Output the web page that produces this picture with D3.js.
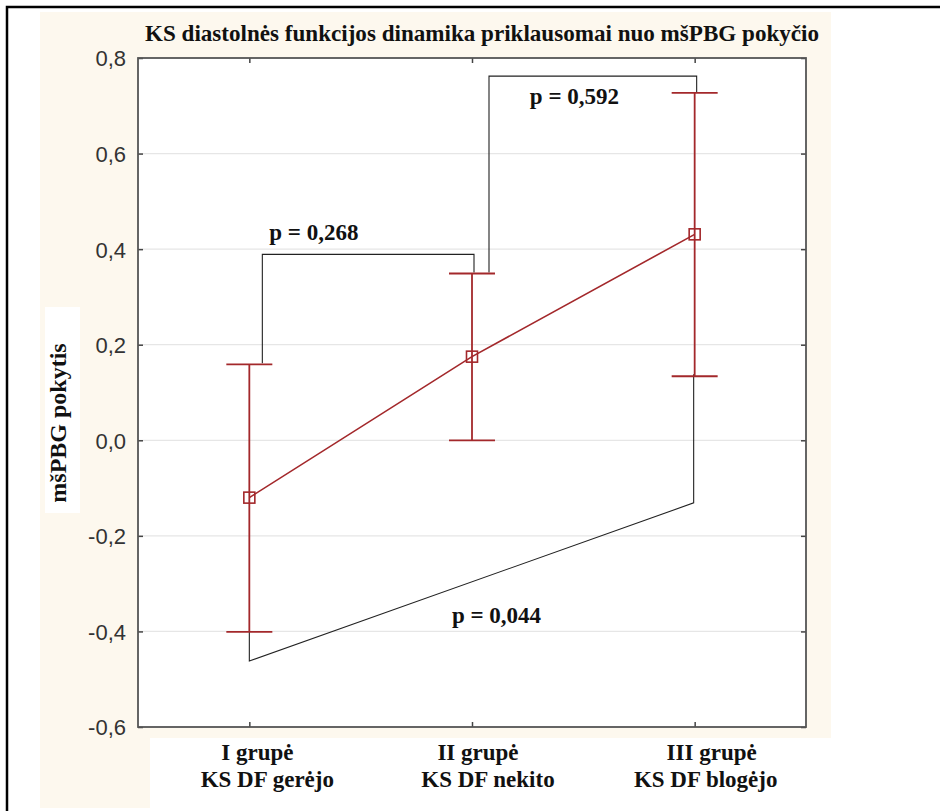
<!DOCTYPE html>
<html>
<head>
<meta charset="utf-8">
<script src="https://cdn.jsdelivr.net/npm/d3@7"></script>
<style>
  body { margin: 0; background: #fff; }
  svg { display: block; }
</style>
</head>
<body>
<div class="container"></div>
<script>
// groups and their mean +/- interval (mšPBG pokytis)
let groupLine1 = ['I grupė', 'II grupė', 'III grupė']
let groupLine2 = ['KS DF gerėjo', 'KS DF nekito', 'KS DF blogėjo']
let means = [-0.12, 0.175, 0.431]
let upper = [0.159, 0.349, 0.727]
let lower = [-0.401, 0.0, 0.134]
let yTicks = [0.8, 0.6, 0.4, 0.2, 0.0, -0.2, -0.4, -0.6]

// significance brackets: from group -> to group, the y values of the legs and the bar
let bracketFrom = [0, 1]
let bracketTo = [1, 2]
let bracketFromY = [0.159, 0.349]
let bracketToY = [0.349, 0.727]
let bracketBarY = [0.389, 0.762]
let pLabels = ['p = 0,268', 'p = 0,592', 'p = 0,044']
let pLabelX = [0.29, 1.46, 1.11]
let pLabelY = [0.419, 0.704, -0.382]

let width = 940
let height = 811
let margin = { top: 58, left: 138, bottom: 84, right: 134 }

let svg = d3.select('.container')
    .append('svg')
    .attr('width', width)
    .attr('height', height)

let red = '#a3282b'
let serif = '"Liberation Serif", "Times New Roman", serif'

// backgrounds
svg.append('rect').attr('x', 40).attr('y', 12).attr('width', 791).attr('height', 796).attr('fill', '#fdf8ee')
svg.append('rect').attr('x', 150).attr('y', 738).attr('width', 790).attr('height', 73).attr('fill', '#fff')
svg.append('rect').attr('x', 45).attr('y', 307).attr('width', 35).attr('height', 206).attr('fill', '#fff')
svg.append('rect')
    .attr('x', margin.left).attr('y', margin.top)
    .attr('width', width - margin.left - margin.right)
    .attr('height', height - margin.top - margin.bottom)
    .attr('fill', '#fff')

// outer frame
svg.append('rect').attr('x', 7).attr('y', 7).attr('width', 960).attr('height', 840)
    .attr('fill', 'none').attr('stroke', '#000').attr('stroke-width', 2.5)

let xScale = d3.scaleLinear()
    .domain([-0.5, 2.5])
    .range([margin.left, width - margin.right])

let yScale = d3.scaleLinear()
    .domain([-0.6, 0.8])
    .range([height - margin.bottom, margin.top])

// grid
svg.append('g')
    .selectAll('line')
    .data(yTicks.slice(1, -1))
    .enter()
    .append('line')
    .attr('x1', margin.left).attr('x2', width - margin.right)
    .attr('y1', d => yScale(d)).attr('y2', d => yScale(d))
    .attr('stroke', '#e6e6e6').attr('stroke-width', 1.2)

let fmt = d => d3.format('.1f')(d).replace('.', ',').replace('−', '-')

let yAxis = d3.axisLeft(yScale).tickValues(yTicks).tickFormat(fmt).tickSizeInner(-5).tickSizeOuter(0).tickPadding(12)
let gy = svg.append('g')
    .attr('transform', `translate(${margin.left},0)`)
    .call(yAxis)
gy.selectAll('text').attr('font-family', '"Liberation Sans", Arial, sans-serif').attr('font-size', 22).attr('fill', '#333').attr('dy', '0.36em')

let gyr = svg.append('g')
    .attr('transform', `translate(${width - margin.right},0)`)
    .call(d3.axisRight(yScale).tickValues(yTicks).tickFormat('').tickSizeInner(-5).tickSizeOuter(0))

let gx = svg.append('g')
    .attr('transform', `translate(0,${height - margin.bottom})`)
    .call(d3.axisBottom(xScale).tickValues([0, 1, 2]).tickFormat('').tickSizeInner(-5).tickSizeOuter(0))
let gxt = svg.append('g')
    .attr('transform', `translate(0,${margin.top})`)
    .call(d3.axisTop(xScale).tickValues([0, 1, 2]).tickFormat('').tickSizeInner(-5).tickSizeOuter(0))

;[gy, gyr, gx, gxt].forEach(g => {
    g.select('.domain').remove()
    g.selectAll('.tick line').attr('stroke', '#444').attr('stroke-width', 1.5)
})

// plot frame
svg.append('rect')
    .attr('x', margin.left).attr('y', margin.top)
    .attr('width', width - margin.left - margin.right)
    .attr('height', height - margin.top - margin.bottom)
    .attr('fill', 'none').attr('stroke', '#555').attr('stroke-width', 1.8)

// brackets
let bline = svg.append('g').attr('fill', 'none').attr('stroke', '#222').attr('stroke-width', 1.1)
let legOffset = [13, 17]
bracketFrom.forEach((f, i) => {
    let x1 = xScale(f) + legOffset[i]
    let x2 = xScale(bracketTo[i]) + 2
    bline.append('path')
        .attr('d', `M${x1},${yScale(bracketFromY[i]) - 1}V${yScale(bracketBarY[i])}H${x2}V${yScale(bracketToY[i]) - 1}`)
})
// lower bracket from III lower bound to I lower bound
bline.append('path')
    .attr('d', `M${xScale(2) - 1},${yScale(lower[2]) - 2}V${yScale(-0.131)}L${xScale(0)},${yScale(-0.462)}V${yScale(lower[0])}`)

// error bars
let eb = svg.append('g').attr('stroke', red).attr('stroke-width', 1.8)
means.forEach((m, i) => {
    let x = xScale(i)
    eb.append('line').attr('x1', x).attr('x2', x).attr('y1', yScale(upper[i])).attr('y2', yScale(lower[i]))
    ;[upper[i], lower[i]].forEach(v => {
        eb.append('line').attr('x1', x - 23).attr('x2', x + 23).attr('y1', yScale(v)).attr('y2', yScale(v))
    })
})

let line = d3.line().x((d, i) => xScale(i)).y(d => yScale(d))
svg.append('path').datum(means).attr('d', line).attr('fill', 'none').attr('stroke', red).attr('stroke-width', 1.6)

svg.selectAll('.dot')
    .data(means)
    .enter()
    .append('rect')
    .attr('class', 'dot')
    .attr('x', (d, i) => xScale(i) - 5.5)
    .attr('y', d => yScale(d) - 5.5)
    .attr('width', 11).attr('height', 11)
    .attr('fill', 'none').attr('stroke', red).attr('stroke-width', 1.6)

// p labels
svg.selectAll('.plabel')
    .data(pLabels)
    .enter()
    .append('text')
    .attr('class', 'plabel')
    .attr('x', (d, i) => xScale(pLabelX[i]))
    .attr('y', (d, i) => yScale(pLabelY[i]))
    .attr('text-anchor', 'middle')
    .attr('font-family', serif).attr('font-weight', 'bold').attr('font-size', 23)
    .attr('fill', '#111')
    .text(d => d)

// group labels
let line1Off = [8, 6, 17]
let line2Off = [18, 16, 11]
groupLine1.forEach((g, i) => {
    let t = svg.append('text')
        .attr('text-anchor', 'middle')
        .attr('font-family', serif).attr('font-weight', 'bold').attr('font-size', 23)
        .attr('fill', '#111')
    t.append('tspan').attr('x', xScale(i) + line1Off[i]).attr('y', 760).text(g)
    t.append('tspan').attr('x', xScale(i) + line2Off[i]).attr('y', 787).text(groupLine2[i])
})

// title
svg.append('text')
    .attr('x', 482).attr('y', 41)
    .attr('text-anchor', 'middle')
    .attr('font-family', serif).attr('font-weight', 'bold').attr('font-size', 24)
    .attr('textLength', 674).attr('lengthAdjust', 'spacingAndGlyphs')
    .attr('fill', '#111')
    .text('KS diastolnės funkcijos dinamika priklausomai nuo mšPBG pokyčio')

// y label
svg.append('text')
    .attr('transform', 'translate(66,423) rotate(-90)')
    .attr('text-anchor', 'middle')
    .attr('font-family', serif).attr('font-weight', 'bold').attr('font-size', 24)
    .attr('fill', '#111')
    .text('mšPBG pokytis')
</script>
</body>
</html>
